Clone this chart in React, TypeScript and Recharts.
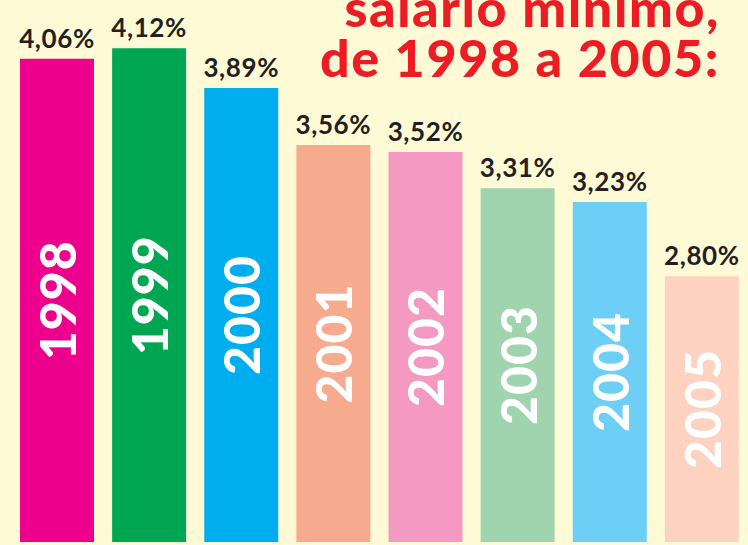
import React from "react";
import { BarChart, Bar, XAxis, YAxis, Cell, LabelList } from "recharts";

// ── Data ───────────────────────────────────────────────────────────

const YEARS = ["1998", "1999", "2000", "2001", "2002", "2003", "2004", "2005"];
const PERCENT = [4.06, 4.12, 3.89, 3.56, 3.52, 3.31, 3.23, 2.8];
const COLORS = ["#ec008c", "#00a651", "#00aeef", "#f7ab8e", "#f49ac2", "#9fd4ae", "#6dcff6", "#fdd2c0"];
const TITLE_LINES = ["salário mínimo,", "de 1998 a 2005:"];

const BG = "#fffad6";
const RED = "#ed1c24";
const INK = "#231f20";
const FONT = "Lato, 'Open Sans', sans-serif";

const data = YEARS.map((year, i) => ({ year, value: PERCENT[i] }));

const fmt = (v: number) => `${v.toFixed(2).replace(".", ",")}%`;

// eslint-disable-next-line @typescript-eslint/no-explicit-any
function ValueLabel(props: any) {
  const { x, y, width, value } = props;
  return (
    <text x={x + width / 2} y={y - 11} textAnchor="middle" fill={INK} fontFamily={FONT} fontWeight={700} fontSize={26} letterSpacing={0.6}>
      {fmt(value)}
    </text>
  );
}

// eslint-disable-next-line @typescript-eslint/no-explicit-any
function YearLabel(props: any) {
  const { x, y, width, height, value } = props;
  const cx = x + width / 2;
  const cy = y + height / 2;
  return (
    <text
      x={cx}
      y={cy}
      transform={`rotate(-90 ${cx} ${cy})`}
      textAnchor="middle"
      dominantBaseline="central"
      fill="#ffffff"
      fontFamily={FONT}
      fontWeight={900}
      fontSize={50}
      letterSpacing={1}
    >
      {value}
    </text>
  );
}

export default function App() {
  return (
    <div style={{ position: "fixed", left: 0, top: 0, width: 748, height: 545, background: BG, overflow: "hidden" }}>
      <BarChart width={748} height={545} data={data} margin={{ top: 0, right: 0, bottom: 3, left: 11 }} barSize={74}>
        <XAxis dataKey="year" hide />
        <YAxis hide domain={[1.26, 4.4]} type="number" allowDataOverflow />
        <Bar dataKey="value" isAnimationActive={false}>
          {data.map((d, i) => (
            <Cell key={d.year} fill={COLORS[i]} />
          ))}
          <LabelList dataKey="value" content={<ValueLabel />} />
          <LabelList dataKey="year" content={<YearLabel />} />
        </Bar>
        <text x={720} y={27} textAnchor="end" fill={RED} fontFamily={FONT} fontWeight={900} fontSize={52} letterSpacing={1.6}>
          {TITLE_LINES[0]}
        </text>
        <text x={720} y={77} textAnchor="end" fill={RED} fontFamily={FONT} fontWeight={900} fontSize={52} letterSpacing={1.6}>
          {TITLE_LINES[1]}
        </text>
      </BarChart>
    </div>
  );
}
